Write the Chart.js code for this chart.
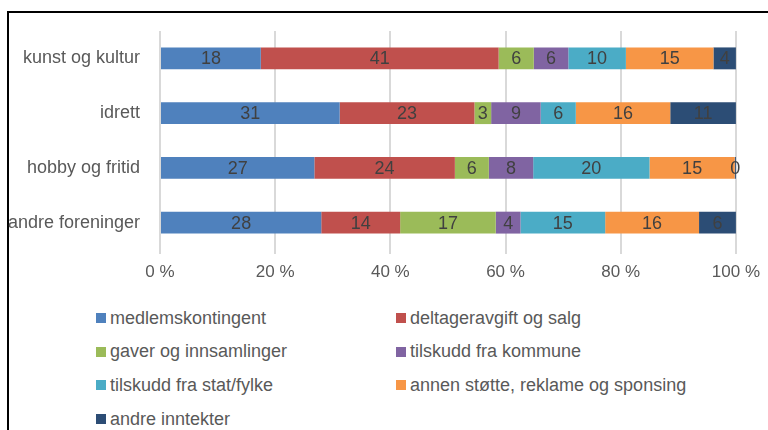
<!DOCTYPE html>
<html>
<head>
<meta charset="utf-8">
<script src="https://cdn.jsdelivr.net/npm/chart.js@4.4.1/dist/chart.umd.min.js"></script>
<style>
    html, body { margin: 0; padding: 0; background: #fff; }
    body { width: 768px; height: 430px; overflow: hidden; position: relative; font-family: "Liberation Sans", Arial, sans-serif; }
    .frame { position: absolute; left: 7px; top: 11px; right: -10px; bottom: -10px; border-left: 2px solid #000; border-top: 2px solid #000; }
    .chart-box { position: absolute; left: 0; top: 0; width: 768px; height: 290px; }
    #legend { position: absolute; left: 96px; top: 306px; display: grid; grid-template-columns: 300px 340px; grid-auto-rows: 33.7px; }
    .legend-item { display: flex; align-items: center; font-size: 18px; color: #595959; height: 24px; }
    .legend-box { width: 10px; height: 10px; margin-right: 4px; }
</style>
</head>
<body>
<div class="frame"></div>
<div class="chart-box"><canvas id="chart"></canvas></div>
<div id="legend"></div>
<script>
    const categories = ["kunst og kultur", "idrett", "hobby og fritid", "andre foreninger"];
    const seriesNames = [
        "medlemskontingent",
        "deltageravgift og salg",
        "gaver og innsamlinger",
        "tilskudd fra kommune",
        "tilskudd fra stat/fylke",
        "annen støtte, reklame og sponsing",
        "andre inntekter"
    ];
    // andel i prosent per kategori (lest av bildet)
    const medlemskontingent = [17.5, 31.2, 26.8, 28.0];
    const deltageravgift    = [41.3, 23.4, 24.4, 13.7];
    const gaver             = [6.1, 2.9, 5.9, 16.6];
    const kommune           = [6.0, 8.6, 7.7, 4.3];
    const statFylke         = [10.0, 6.1, 20.2, 14.7];
    const annenStotte       = [15.2, 16.4, 14.8, 16.3];
    const andreInntekter    = [3.9, 11.4, 0.2, 6.4];
    const xTicks = [0, 20, 40, 60, 80, 100];
    const colors = ["#4F81BD", "#C0504D", "#9BBB59", "#8064A2", "#4BACC6", "#F79646", "#2C4D75"];

    const allSeries = [medlemskontingent, deltageravgift, gaver, kommune, statFylke, annenStotte, andreInntekter];

    // tall midt i hver bit av stolpen
    const barLabels = {
        id: 'barLabels',
        afterDatasetsDraw(chart) {
            const c = chart.ctx;
            c.save();
            c.font = '18px "Liberation Sans", Arial, sans-serif';
            c.fillStyle = '#404040';
            c.textAlign = 'center';
            c.textBaseline = 'middle';
            chart.data.datasets.forEach((ds, i) => {
                chart.getDatasetMeta(i).data.forEach((bar, j) => {
                    const x = (bar.x + bar.base) / 2;
                    c.fillText(Math.round(ds.data[j]), x, bar.y + 1);
                });
            });
            c.restore();
        }
    };

    const htmlLegend = {
        id: 'htmlLegend',
        afterUpdate(chart) {
            const box = document.getElementById('legend');
            box.innerHTML = '';
            chart.options.plugins.legend.labels.generateLabels(chart).forEach(item => {
                const el = document.createElement('div');
                el.className = 'legend-item';
                const sq = document.createElement('span');
                sq.className = 'legend-box';
                sq.style.background = item.fillStyle;
                el.appendChild(sq);
                el.appendChild(document.createTextNode(item.text));
                box.appendChild(el);
            });
        }
    };

    new Chart(document.getElementById('chart'), {
        type: 'bar',
        data: {
            labels: categories,
            datasets: allSeries.map((data, i) => ({
                label: seriesNames[i],
                data: data,
                backgroundColor: colors[i],
                borderWidth: 0,
                barPercentage: 0.8,
                categoryPercentage: 0.5
            }))
        },
        options: {
            indexAxis: 'y',
            responsive: true,
            maintainAspectRatio: false,
            animation: false,
            layout: { padding: { top: 31, right: 14, left: 0, bottom: 0 } },
            plugins: {
                legend: { display: false },
                tooltip: { enabled: false }
            },
            scales: {
                x: {
                    stacked: true,
                    min: 0,
                    max: 100,
                    afterBuildTicks: (s) => { s.ticks = xTicks.map(v => ({ value: v })); },
                    ticks: {
                        callback: (v) => v + ' %',
                        color: '#595959',
                        font: { size: 17, family: '"Liberation Sans", Arial, sans-serif' },
                        padding: 8,
                        maxRotation: 0
                    },
                    grid: { color: '#D9D9D9', lineWidth: 2, drawTicks: true, tickLength: 4, tickColor: '#D9D9D9' },
                    border: { display: false },
                    afterFit: (s) => { s.height = 40; }
                },
                y: {
                    stacked: true,
                    ticks: {
                        color: '#595959',
                        font: { size: 18, family: '"Liberation Sans", Arial, sans-serif' },
                        padding: 12
                    },
                    grid: { display: false },
                    border: { display: false },
                    afterFit: (s) => { s.width = 160; }
                }
            }
        },
        plugins: [barLabels, htmlLegend]
    });
</script>
</body>
</html>
